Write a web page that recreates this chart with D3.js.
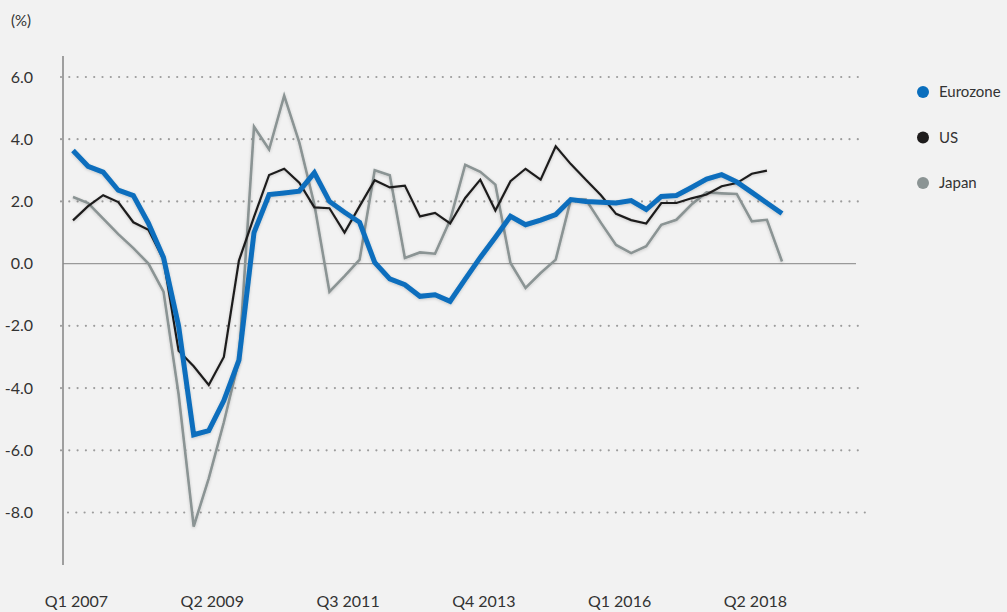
<!DOCTYPE html>
<html>
<head>
<meta charset="utf-8">
<script src="https://cdn.jsdelivr.net/npm/d3@7"></script>
<style>
  body { margin: 0; background: #f2f2f2; }
  svg { display: block; }
  svg text { font-family: Lato, "Noto Sans", sans-serif; font-weight: 400; }
</style>
</head>
<body>
<div class="canvas"></div>
<script>
// quarterly y/y growth, Q1 2007 onwards
const eurozone = [3.64, 3.13, 2.94, 2.36, 2.19, 1.3, 0.2, -2.0, -5.5, -5.37, -4.4, -3.1,
  1.0, 2.22, 2.27, 2.33, 2.92, 2.0, 1.65, 1.33, 0.04, -0.49, -0.68, -1.05,
  -1.0, -1.21, -0.5, 0.2, 0.85, 1.52, 1.25, 1.4, 1.58, 2.06, 2.0, 1.97,
  1.95, 2.03, 1.74, 2.16, 2.19, 2.45, 2.72, 2.86, 2.63, 2.29, 1.95, 1.61];

const us = [1.39, 1.85, 2.2, 1.98, 1.33, 1.09, 0.13, -2.8, -3.3, -3.9, -3.0, 0.1,
  1.5, 2.85, 3.05, 2.6, 1.81, 1.78, 1.0, 1.85, 2.68, 2.45, 2.51, 1.52,
  1.63, 1.29, 2.11, 2.7, 1.71, 2.65, 3.05, 2.7, 3.77, 3.2, 2.7, 2.2,
  1.6, 1.4, 1.29, 1.95, 1.95, 2.1, 2.22, 2.49, 2.59, 2.89, 2.99];

const japan = [2.14, 1.95, 1.45, 0.95, 0.5, 0.0, -0.9, -4.2, -8.45, -6.9, -5.1, -3.1,
  4.4, 3.67, 5.4, 3.9, 1.9, -0.9, -0.4, 0.13, 3.0, 2.84, 0.18, 0.36,
  0.32, 1.4, 3.18, 2.95, 2.54, 0.02, -0.78, -0.3, 0.13, 2.06, 2.06, 1.31,
  0.6, 0.34, 0.56, 1.25, 1.41, 1.9, 2.29, 2.26, 2.24, 1.36, 1.41, 0.07];

const tickIndex = [0, 9, 18, 27, 36, 45];
const tickLabels = ['Q1 2007', 'Q2 2009', 'Q3 2011', 'Q4 2013', 'Q1 2016', 'Q2 2018'];
const yTicks = [-8, -6, -4, -2, 0, 2, 4, 6];

const series = [
  { name: 'Japan', values: japan, colour: '#8b9494', width: 2.6 },
  { name: 'US', values: us, colour: '#1e1c1c', width: 2.2 },
  { name: 'Eurozone', values: eurozone, colour: '#0a6ebd', width: 5 }
];
const legendOrder = ['Eurozone', 'US', 'Japan'];

const svg = d3.select('.canvas')
    .append('svg')
    .attr('width', 1007)
    .attr('height', 612);

svg.append('rect')
    .attr('width', 1007)
    .attr('height', 612)
    .attr('fill', '#f2f2f2');

const defs = svg.append('defs');
const glow = defs.append('filter')
    .attr('id', 'glow')
    .attr('x', '-5%').attr('y', '-5%')
    .attr('width', '110%').attr('height', '110%');
glow.append('feDropShadow')
    .attr('dx', 0).attr('dy', 1)
    .attr('stdDeviation', 1.5)
    .attr('flood-color', '#000')
    .attr('flood-opacity', 0.18);

const x = d3.scaleLinear()
    .domain([0, 47])
    .range([73, 782]);

const y = d3.scaleLinear()
    .domain([-8, 6])
    .range([512.5, 77]);

// dotted grid
svg.append('g')
    .selectAll('line')
    .data(yTicks.filter(d => d !== 0))
    .enter()
    .append('line')
    .attr('x1', d => d === -8 ? 68 : 61)
    .attr('x2', d => d === -8 ? 865 : 858)
    .attr('y1', d => y(d))
    .attr('y2', d => y(d))
    .attr('stroke', '#9c9c9c')
    .attr('stroke-width', 2.2)
    .attr('stroke-linecap', 'round')
    .attr('stroke-dasharray', '0 8.3');

// zero line
svg.append('line')
    .attr('x1', 63).attr('x2', 856)
    .attr('y1', y(0)).attr('y2', y(0))
    .attr('stroke', '#9a9a9a')
    .attr('stroke-width', 1.2);

// vertical axis line
svg.append('line')
    .attr('x1', 63).attr('x2', 63)
    .attr('y1', 56).attr('y2', 565)
    .attr('stroke', '#8a8a8a')
    .attr('stroke-width', 1.6);

// y labels
const yAxis = svg.append('g')
    .attr('transform', 'translate(35, 0)')
    .call(d3.axisLeft(y).tickValues(yTicks).tickSize(0).tickPadding(2)
        .tickFormat(d => d.toFixed(1)));
yAxis.select('.domain').remove();
yAxis.selectAll('text')
    .attr('fill', '#333')
    .style('font-size', '16px');

// x labels
const xAxis = svg.append('g')
    .attr('transform', 'translate(3, 590)')
    .call(d3.axisBottom(x).tickValues(tickIndex).tickSize(0).tickPadding(6)
        .tickFormat((d, i) => tickLabels[i]));
xAxis.select('.domain').remove();
xAxis.selectAll('text')
    .attr('fill', '#333')
    .style('font-size', '16px');

svg.append('text')
    .attr('x', 11)
    .attr('y', 26)
    .attr('fill', '#333')
    .style('font-size', '15px')
    .text('(%)');

// lines
const line = d3.line()
    .x((d, i) => x(i))
    .y(d => y(d));

svg.append('g')
    .selectAll('path')
    .data(series)
    .enter()
    .append('path')
    .attr('d', d => line(d.values))
    .attr('fill', 'none')
    .attr('stroke', d => d.colour)
    .attr('stroke-width', d => d.width)
    .attr('stroke-linejoin', 'miter')
    .attr('filter', 'url(#glow)');

// legend
const legend = svg.append('g')
    .selectAll('g')
    .data(legendOrder.map(n => series.find(s => s.name === n)))
    .enter()
    .append('g')
    .attr('transform', (d, i) => `translate(923, ${92 + i * 45.5})`);

legend.append('circle')
    .attr('r', 6)
    .attr('fill', d => d.colour);

legend.append('text')
    .attr('x', 16)
    .attr('dy', '0.35em')
    .attr('fill', '#333')
    .style('font-size', '15px')
    .text(d => d.name);
</script>
</body>
</html>
